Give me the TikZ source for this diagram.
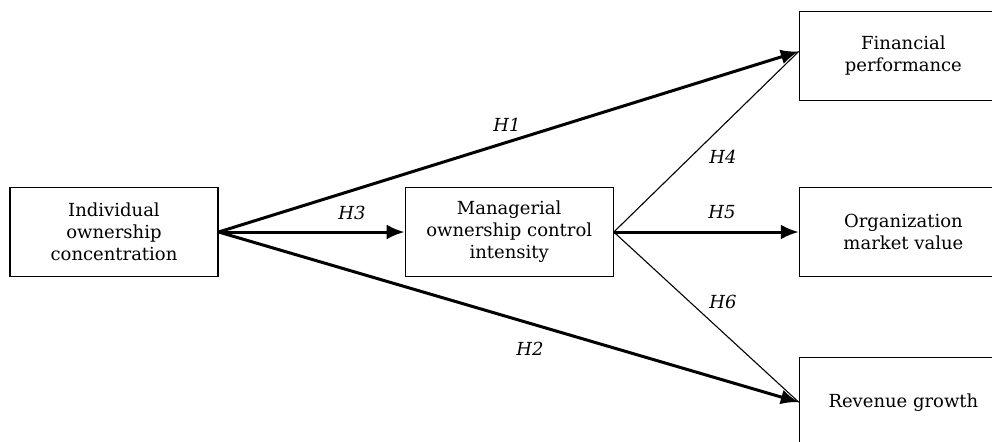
\documentclass[tikz,border=0pt]{standalone}
\usepackage{fontspec}
\setmainfont{DejaVu Serif}
\usetikzlibrary{arrows.meta,positioning}
\begin{document}
\begin{tikzpicture}[x=0.5pt,y=-0.5pt,node distance=40pt,
  font=\fontsize{9}{11}\selectfont,
  varbox/.style={draw,line width=0.6pt,minimum width=104pt,minimum height=44.5pt,
    align=center,inner sep=2pt},
  mainarrow/.style={line width=1.5pt,-{Latex[length=9pt,width=7.5pt]}},
  sidearrow/.style={line width=0.55pt},
  hlabel/.style={font=\fontsize{9}{11}\selectfont\itshape}]
  \path[use as bounding box,clip] (0,0) rectangle (992,441);
  \node[varbox] (ind) at (114,232) {Individual\\ownership\\concentration};
  \node[varbox,right=93pt of ind] (mgr) {Managerial\\ownership control\\intensity};
  \node[varbox,right=92.5pt of mgr] (org) {Organization\\market value};
  \node[varbox,above=43pt of org] (fin) {Financial\\performance};
  \node[varbox,below=40pt of org] (rev) {Revenue growth};
  \coordinate (finin) at ([yshift=2.2pt]fin.west);
  % paths
  \draw[mainarrow] (ind.east) -- (finin);
  \draw[mainarrow] (ind.east) -- (mgr.west);
  \draw[mainarrow] (ind.east) -- (rev.west);
  \draw[mainarrow] (mgr.east) -- (org.west);
  \draw[sidearrow] (mgr.east) -- (finin);
  \draw[sidearrow] (mgr.east) -- (rev.west);
  % labels
  \node[hlabel] (h1) at (507,125) {H1};
  \node[hlabel] (h2) at (530,349) {H2};
  \node[hlabel] (h3) at (352,213) {H3};
  \node[hlabel] (h4) at (723,157) {H4};
  \node[hlabel] (h5) at (722,212) {H5};
  \node[hlabel] (h6) at (723,302) {H6};
\end{tikzpicture}
\end{document}
